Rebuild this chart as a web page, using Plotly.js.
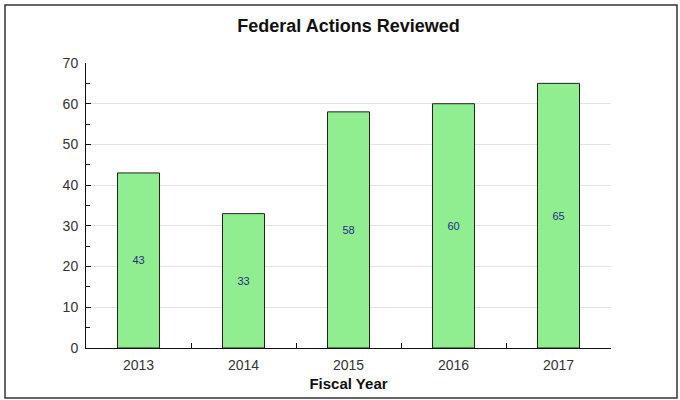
<!DOCTYPE html>
<html>
<head>
<meta charset="utf-8">
<script src="https://cdn.plot.ly/plotly-3.0.1.min.js"></script>
<style>html,body{margin:0;padding:0;background:#fff;}#chart{width:680px;height:400px;}</style>
</head>
<body>
<div id="chart"></div>
<script>
const years = ['2013', '2014', '2015', '2016', '2017'];
const actionsReviewed = [43, 33, 58, 60, 65];
const chartTitle = 'Federal Actions Reviewed';
const xTitle = 'Fiscal Year';

const L = 86, R = 69, T = 63, B = 52, W = 680, H = 400;
const pw = W - L - R, ph = H - T - B;
const px = v => (v - L) / pw;
const py = v => (H - B - v) / ph;

const trace = {
  type: 'bar',
  x: years,
  y: actionsReviewed,
  width: 0.4,
  marker: {color: '#90ee90', line: {color: '#222', width: 1}},
  text: actionsReviewed.map(String),
  textposition: 'inside',
  insidetextanchor: 'middle',
  constraintext: 'none',
  textfont: {family: 'Liberation Sans, Arial, sans-serif', size: 11, color: '#1f2d8a'},
  hoverinfo: 'x+y'
};

const layout = {
  width: W, height: H,
  margin: {l: L, r: R, t: T, b: B},
  paper_bgcolor: '#fff', plot_bgcolor: '#fff',
  showlegend: false,
  font: {family: 'Liberation Sans, Arial, sans-serif', color: '#333', size: 14},
  title: {text: '<b>' + chartTitle + '</b>', xref: 'paper', x: 0.5, xanchor: 'center', y: 1 - 26 / H, yanchor: 'middle',
          font: {size: 18, color: '#111'}},
  xaxis: {
    type: 'category',
    showline: true, linecolor: '#111', linewidth: 1,
    ticks: 'inside', tickson: 'boundaries', ticklen: 5, tickcolor: '#111',
    showgrid: false, zeroline: false,
    tickfont: {size: 14, color: '#333'},
    ticklabelstandoff: 4,
    title: {text: '<b>' + xTitle + '</b>', font: {size: 15, color: '#111'}, standoff: 6}
  },
  yaxis: {
    range: [0, 70], dtick: 10,
    showline: true, linecolor: '#111', linewidth: 1,
    ticks: 'inside', ticklen: 5, tickcolor: '#111',
    minor: {dtick: 5, ticks: 'inside', ticklen: 4, tickcolor: '#111', showgrid: false},
    showgrid: true, gridcolor: '#e3e3e3', gridwidth: 1,
    zeroline: false,
    tickfont: {size: 14, color: '#333'},
    ticklabelstandoff: 4
  },
  shapes: [{
    type: 'rect', xref: 'paper', yref: 'paper',
    x0: px(5), x1: px(677), y0: py(398), y1: py(5),
    line: {color: '#333', width: 1.5}, fillcolor: 'rgba(0,0,0,0)'
  }]
};

Plotly.newPlot('chart', [trace], layout, {displayModeBar: false, staticPlot: true});
</script>
</body>
</html>
